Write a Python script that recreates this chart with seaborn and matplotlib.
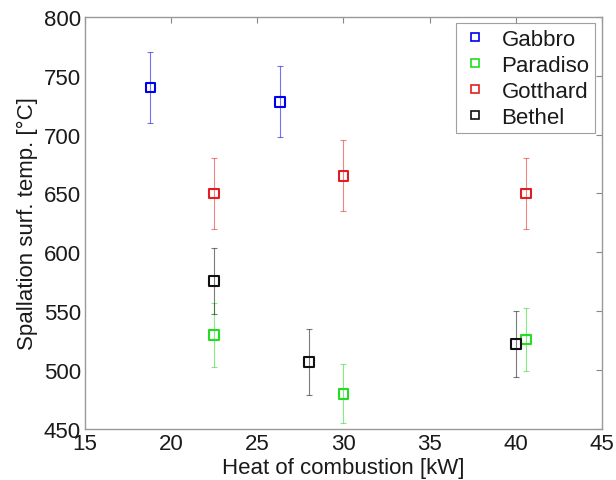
import matplotlib
matplotlib.use("Agg")
import matplotlib.pyplot as plt
import seaborn as sns
import pandas as pd
from matplotlib.lines import Line2D

series = ["Gabbro", "Paradiso", "Gotthard", "Bethel"]
colors = ["#0000ee", "#22dd22", "#e02020", "#111111"]
gabbro_x = [18.8, 26.3]
gabbro_y = [740, 728]
gabbro_err = [30, 30]
paradiso_x = [22.5, 30.0, 40.6]
paradiso_y = [530, 480, 526]
paradiso_err = [27, 25, 27]
gotthard_x = [22.5, 30.0, 40.6]
gotthard_y = [650, 665, 650]
gotthard_err = [30, 30, 30]
bethel_x = [22.5, 28.0, 40.0]
bethel_y = [576, 507, 522]
bethel_err = [28, 28, 28]
xticks = [15, 20, 25, 30, 35, 40, 45]
yticks = [450, 500, 550, 600, 650, 700, 750, 800]

data = {
    "Gabbro": (gabbro_x, gabbro_y, gabbro_err),
    "Paradiso": (paradiso_x, paradiso_y, paradiso_err),
    "Gotthard": (gotthard_x, gotthard_y, gotthard_err),
    "Bethel": (bethel_x, bethel_y, bethel_err),
}

sns.set_style("white")
plt.rcParams["font.family"] = ["Liberation Sans", "DejaVu Sans"]
plt.rcParams["text.color"] = "#1a1a1a"
plt.rcParams["axes.labelcolor"] = "#1a1a1a"
plt.rcParams["xtick.labelcolor"] = "#1a1a1a"
plt.rcParams["ytick.labelcolor"] = "#1a1a1a"

fig = plt.figure(figsize=(6.16, 4.81), dpi=100)
ax = fig.add_axes([0.138, 0.106, 0.839, 0.857])

handles = []
for name, col in zip(series, colors):
    x, y, e = data[name]
    ax.errorbar(x, y, yerr=e, fmt="none", ecolor=col, elinewidth=0.8,
                capsize=2.5, capthick=0.8, alpha=0.55, zorder=2)
    df = pd.DataFrame({"x": x, "y": y})
    sns.scatterplot(data=df, x="x", y="y", ax=ax, marker="s", s=50,
                    facecolors="none", edgecolors=col, linewidths=1.5, zorder=3)
    handles.append(Line2D([], [], marker="s", linestyle="none", markersize=5.5,
                          markerfacecolor="none", markeredgecolor=col,
                          markeredgewidth=1.2, label=name))

ax.set_xlim(15, 45)
ax.set_ylim(450, 800)
ax.set_xticks(xticks)
ax.set_yticks(yticks)
ax.tick_params(direction="in", length=4, width=0.8, color="#888888",
               top=True, right=True, labelsize=16, pad=3)
for sp in ax.spines.values():
    sp.set_color("#999999")
    sp.set_linewidth(1.0)
ax.set_xlabel("Heat of combustion [kW]", fontsize=16, labelpad=2)
ax.set_ylabel("Spallation surf. temp. [°C]", fontsize=16, labelpad=4)

leg = ax.legend(handles=handles, loc="upper right", fontsize=16,
                frameon=True, fancybox=False, edgecolor="#888888",
                borderaxespad=0.3, handletextpad=0.6, labelspacing=0.22,
                borderpad=0.25, handlelength=1.2)
leg.get_frame().set_linewidth(0.8)

fig.savefig("out.png", dpi=100)
